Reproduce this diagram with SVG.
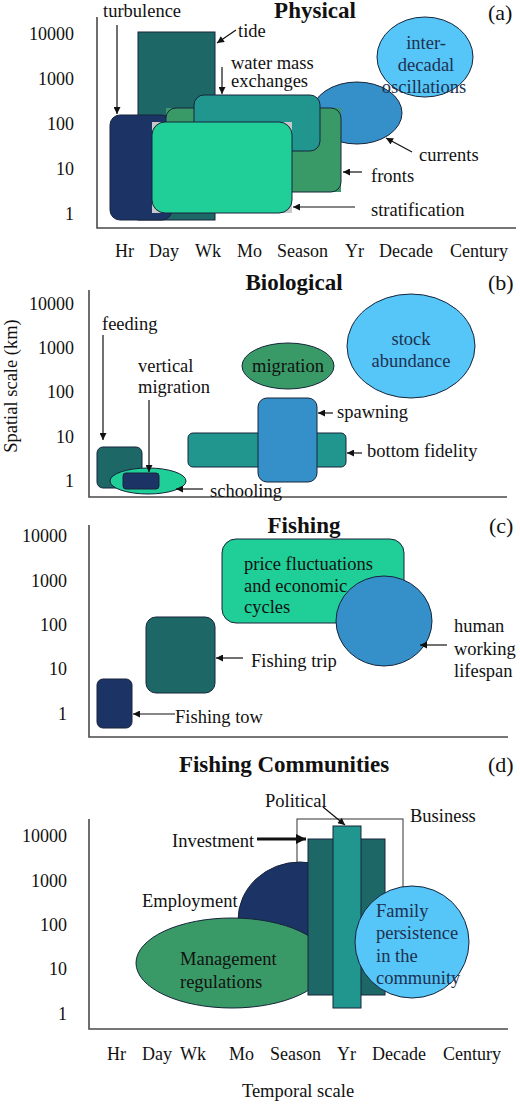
<svg xmlns="http://www.w3.org/2000/svg" width="520" height="1104" viewBox="0 0 520 1104" font-family="'Liberation Serif', 'DejaVu Serif', serif">
<style>
text{font-family:'Liberation Serif','DejaVu Serif',serif;fill:#111;font-size:18.5px}
.ax{font-size:18px}
.yl{font-size:18px;text-anchor:end}
.ttl{font-size:23px;font-weight:bold;text-anchor:middle}
.pl{font-size:22px}
.in{fill:#1d3150}
.axis{fill:none;stroke:#4a4a4a;stroke-width:1.6}
.sh{stroke:#16243a;stroke-width:1}
.navy{fill:#1c3366}
.dteal{fill:#1d6866}
.teal{fill:#21968f}
.green{fill:#3a9a67}
.lgreen{fill:#20cf98}
.blue{fill:#3590c9}
.lblue{fill:#56c5f8}
.arr{fill:none;stroke:#111;stroke-width:1.2;marker-end:url(#ah)}
</style>
<defs>
<marker id="ah" viewBox="0 0 10 10" refX="10" refY="5" markerWidth="8" markerHeight="7" markerUnits="userSpaceOnUse" orient="auto">
<path d="M0,0 L10,5 L0,10 z" fill="#111"/>
</marker>
<marker id="ahb" viewBox="0 0 10 10" refX="10" refY="5" markerWidth="10" markerHeight="10" markerUnits="userSpaceOnUse" orient="auto">
<path d="M0,0 L10,5 L0,10 z" fill="#111"/>
</marker>
</defs>

<!-- Panel A -->
<g id="panel-a">
<text class="ttl" x="315" y="18">Physical</text>
<text class="pl" x="488" y="20">(a)</text>
<g id="a-axis">
<path class="axis" d="M97,17 V228 H516"/>
<text class="yl" x="74" y="40">10000</text>
<text class="yl" x="74" y="85">1000</text>
<text class="yl" x="74" y="130">100</text>
<text class="yl" x="74" y="175">10</text>
<text class="yl" x="74" y="220">1</text>
<text class="ax" x="115" y="257">Hr</text>
<text class="ax" x="149" y="257">Day</text>
<text class="ax" x="195" y="257">Wk</text>
<text class="ax" x="237" y="257">Mo</text>
<text class="ax" x="277" y="257">Season</text>
<text class="ax" x="345" y="257">Yr</text>
<text class="ax" x="379" y="257">Decade</text>
<text class="ax" x="450" y="257">Century</text>
</g>
<g id="currents"><ellipse class="sh blue" cx="357" cy="113" rx="45" ry="31"/></g>
<g id="interdecadal">
<ellipse class="sh lblue" cx="425" cy="57" rx="48" ry="40"/>
<text class="in" x="426" y="49" text-anchor="middle" font-size="19">inter-</text>
<text class="in" x="426" y="71" text-anchor="middle" font-size="19">decadal</text>
<text class="in" x="424" y="93" text-anchor="middle" font-size="19">oscillations</text>
</g>
<g id="tide"><rect class="sh dteal" x="138" y="32" width="77" height="188"/></g>
<g id="turbulence"><rect class="sh navy" x="110" y="115" width="62" height="105" rx="10"/></g>
<g id="fronts">
<rect class="green" x="166" y="108" width="175" height="84"/>
<rect class="sh green" x="166" y="108" width="175" height="84" rx="10"/>
</g>
<g id="watermass"><rect class="sh teal" x="194" y="95" width="126" height="56" rx="10"/></g>
<g id="stratification">
<rect x="152" y="122" width="140" height="91" fill="#c8c8c8"/>
<rect class="sh lgreen" x="152" y="122" width="140" height="91" rx="13"/>
</g>
<text x="103" y="17">turbulence</text>
<text x="238" y="37">tide</text>
<text x="231" y="69" font-size="16">water mass</text>
<text x="231" y="87" font-size="16">exchanges</text>
<text x="419" y="161">currents</text>
<text x="371" y="182">fronts</text>
<text x="371" y="216">stratification</text>
</g>

<!-- Panel B -->
<g id="panel-b">
<text class="ttl" x="294" y="290">Biological</text>
<text class="pl" x="488" y="290">(b)</text>
<text x="17" y="386" font-size="20.5" text-anchor="middle" transform="rotate(-90 17 386)">Spatial scale (km)</text>
<g id="b-axis">
<path class="axis" d="M89,290 V497 H507"/>
<text class="yl" x="74" y="310">10000</text>
<text class="yl" x="74" y="354">1000</text>
<text class="yl" x="74" y="398">100</text>
<text class="yl" x="74" y="443">10</text>
<text class="yl" x="74" y="487">1</text>
</g>
<g id="feeding"><rect class="sh dteal" x="97" y="447" width="45" height="41" rx="6"/></g>
<g id="schooling"><ellipse class="sh lgreen" cx="148" cy="481" rx="38" ry="13"/></g>
<g id="vertical-migration"><rect class="sh navy" x="123" y="473" width="36" height="16" rx="3"/></g>
<g id="bottom-fidelity"><rect class="sh teal" x="188" y="433" width="158" height="34" rx="5"/></g>
<g id="spawning"><rect class="sh blue" x="258" y="398" width="59" height="84" rx="9"/></g>
<g id="migration">
<ellipse class="sh green" cx="288" cy="366" rx="46" ry="23"/>
<text x="288" y="372" text-anchor="middle">migration</text>
</g>
<g id="stock-abundance">
<ellipse class="sh lblue" cx="411" cy="346" rx="64" ry="52"/>
<text class="in" x="411" y="345" text-anchor="middle">stock</text>
<text class="in" x="411" y="367" text-anchor="middle">abundance</text>
</g>
<text x="102" y="330">feeding</text>
<text x="138" y="372">vertical</text>
<text x="138" y="393">migration</text>
<text x="210" y="497">schooling</text>
<text x="337" y="418">spawning</text>
<text x="367" y="457">bottom fidelity</text>
</g>

<!-- Panel C -->
<g id="panel-c">
<text class="ttl" x="304" y="533">Fishing</text>
<text class="pl" x="489" y="533">(c)</text>
<g id="c-axis">
<path class="axis" d="M89,525 V737 H508"/>
<text class="yl" x="67" y="542">10000</text>
<text class="yl" x="67" y="587">1000</text>
<text class="yl" x="67" y="631">100</text>
<text class="yl" x="67" y="675">10</text>
<text class="yl" x="67" y="720">1</text>
</g>
<g id="fishing-tow"><rect class="sh navy" x="97" y="679" width="35" height="49" rx="6"/></g>
<g id="fishing-trip"><rect class="sh dteal" x="146" y="617" width="69" height="76" rx="10"/></g>
<g id="price">
<rect class="sh lgreen" x="222" y="539" width="182" height="84" rx="14"/>
<text x="244" y="570">price fluctuations</text>
<text x="244" y="592">and economic</text>
<text x="244" y="613">cycles</text>
</g>
<g id="lifespan"><ellipse class="sh blue" cx="384" cy="621" rx="48" ry="45"/></g>
<text x="454" y="632">human</text>
<text x="454" y="655">working</text>
<text x="454" y="677">lifespan</text>
<text x="251" y="667">Fishing trip</text>
<text x="175" y="723">Fishing tow</text>
</g>

<!-- Panel D -->
<g id="panel-d">
<text class="ttl" x="284" y="772">Fishing Communities</text>
<text class="pl" x="488" y="772">(d)</text>
<g id="d-axis">
<path class="axis" d="M89,819 V1029 H508"/>
<text class="yl" x="67" y="842">10000</text>
<text class="yl" x="67" y="887">1000</text>
<text class="yl" x="67" y="931">100</text>
<text class="yl" x="67" y="975">10</text>
<text class="yl" x="67" y="1020">1</text>
<text class="ax" x="107" y="1060">Hr</text>
<text class="ax" x="142" y="1060">Day</text>
<text class="ax" x="180" y="1060">Wk</text>
<text class="ax" x="229" y="1060">Mo</text>
<text class="ax" x="270" y="1060">Season</text>
<text class="ax" x="337" y="1060">Yr</text>
<text class="ax" x="372" y="1060">Decade</text>
<text class="ax" x="443" y="1060">Century</text>
<text x="298" y="1097" font-size="20" text-anchor="middle">Temporal scale</text>
</g>
<g id="business"><rect x="297" y="819" width="106" height="140" fill="none" stroke="#555" stroke-width="1.2"/></g>
<g id="employment"><ellipse class="sh navy" cx="300" cy="920" rx="62" ry="58"/></g>
<g id="management">
<ellipse class="sh green" cx="232" cy="963" rx="96" ry="45"/>
<text x="180" y="965">Management</text>
<text x="180" y="988">regulations</text>
</g>
<g id="bars"><rect class="sh dteal" x="308" y="839" width="77" height="156"/></g>
<g id="political"><rect class="sh teal" x="333" y="826" width="28" height="182"/></g>
<g id="family">
<ellipse class="sh lblue" cx="412" cy="942" rx="57" ry="56"/>
<text class="in" x="376" y="917">Family</text>
<text class="in" x="376" y="939">persistence</text>
<text class="in" x="376" y="962">in the</text>
<text class="in" x="376" y="984">community</text>
</g>
<text x="172" y="847">Investment</text>
<text x="142" y="907">Employment</text>
<text x="265" y="807">Political</text>
<text x="410" y="822">Business</text>
</g>

<g id="connectors">
<path class="arr" d="M117,25 V114"/>
<path class="arr" d="M236,30 L217,43"/>
<path class="arr" d="M222,67 V94"/>
<path class="arr" d="M412,152 L386,138"/>
<path class="arr" d="M362,172 H343"/>
<path class="arr" d="M355,207 H293"/>
<path class="arr" d="M103,335 V440"/>
<path class="arr" d="M149,400 V472"/>
<path class="arr" d="M203,489 H176"/>
<path class="arr" d="M333,413 H318"/>
<path class="arr" d="M362,453 H347"/>
<path class="arr" d="M447,645 H420"/>
<path class="arr" d="M243,658 H216"/>
<path class="arr" d="M175,714 H133"/>
<path class="arr" d="M323,807 L345,825"/>
<path d="M257,839 H306" fill="none" stroke="#111" stroke-width="3" marker-end="url(#ahb)"/>
</g>
</svg>
